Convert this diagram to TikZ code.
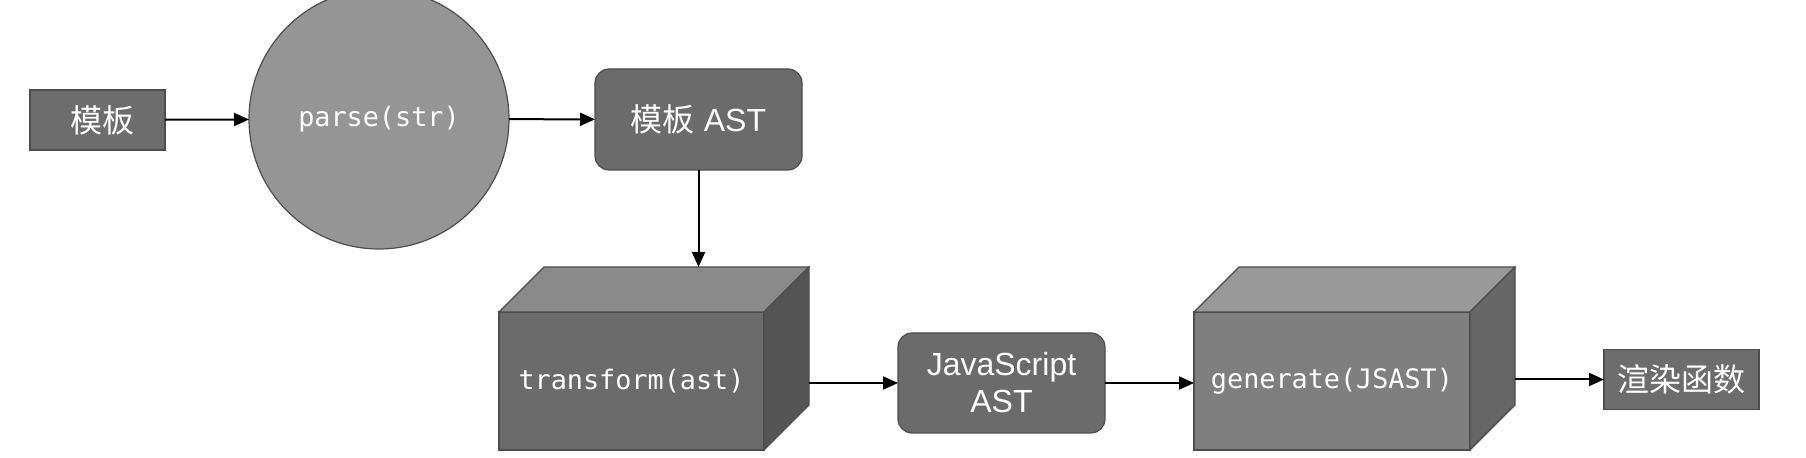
\documentclass[tikz,border=0pt]{standalone}
\usepackage{fontspec}
\setmainfont{Liberation Sans}
\setmonofont{DejaVu Sans Mono}
\newfontfamily\cjk{Noto Sans CJK SC}
\usetikzlibrary{arrows.meta}
\definecolor{edgegray}{HTML}{4D4D4D}
\definecolor{boxgray}{HTML}{6D6D6D}
\definecolor{circgray}{HTML}{959595}
\definecolor{frontA}{HTML}{6B6B6B}
\definecolor{topA}{HTML}{8A8A8A}
\definecolor{sideA}{HTML}{555555}
\definecolor{frontB}{HTML}{7F7F7F}
\definecolor{topB}{HTML}{999999}
\definecolor{sideB}{HTML}{666666}
\begin{document}
\begin{tikzpicture}[x=0.5pt,y=-0.5pt,
	stage/.style={draw=edgegray,line width=0.6pt,outer sep=0pt,text=white,align=center,
		font=\fontsize{16}{18.5}\selectfont},
	box/.style={stage,rectangle,fill=boxgray,minimum width=#1,minimum height=30pt},
	rbox/.style={stage,rectangle,rounded corners=7pt,fill=frontA,minimum width=103.5pt,minimum height=50.5pt},
	front/.style={stage,rectangle,minimum height=69pt,font=\ttfamily\fontsize{13.4}{16}\selectfont},
	face/.style={draw=edgegray,line width=0.6pt},
	link/.style={-{Triangle[length=7.5pt,width=6.5pt]},line width=1pt}]
	\useasboundingbox (0,0) rectangle (1806,458);
	%Noeuds du haut
	\node[box=67.5pt] (M) at (97.5,120) {\hspace{5.5pt}\cjk 模板};
	\node[stage,circle,fill=circgray,minimum size=130pt,font=\ttfamily\fontsize{13.4}{16}\selectfont] (P) at (379,119) {parse(str)};
	\node[rbox] (A) at (698.5,119.5) {{\cjk 模板} AST};
	%Noeuds du bas
	\node[front,fill=frontA,minimum width=132.5pt] (T) at (631.5,381) {transform(ast)};
	\node[rbox,minimum height=50pt] (J) at (1001.5,383) {JavaScript\\AST};
	\node[front,fill=frontB,minimum width=138pt] (G) at (1332,381) {generate(JSAST)};
	\node[box=77.5pt] (R) at (1681.5,379.5) {\cjk 渲染函数};
	%Faces des cubes
	\draw[face,fill=topA] (T.north west) -- ([shift={(45,-45)}]T.north west) -- ([shift={(45,-45)}]T.north east) -- (T.north east) -- cycle;
	\draw[face,fill=sideA] (T.north east) -- ([shift={(45,-45)}]T.north east) -- ([shift={(45,-45)}]T.south east) -- (T.south east) -- cycle;
	\draw[face,fill=topB] (G.north west) -- ([shift={(45,-45)}]G.north west) -- ([shift={(45,-45)}]G.north east) -- (G.north east) -- cycle;
	\draw[face,fill=sideB] (G.north east) -- ([shift={(45,-45)}]G.north east) -- ([shift={(45,-45)}]G.south east) -- (G.south east) -- cycle;
	\coordinate (Tb) at ([shift={(45,-45)}]T.north west);
	\coordinate (Tr) at ([shift={(45,0)}]T.east);
	\coordinate (Gr) at ([shift={(45,0)}]G.east);
	%Fleches
	\draw[link] (M) -- (P);
	\draw[link] (P) -- (A);
	\draw[link] (A.south) -- (A.south |- Tb);
	\draw[link] (Tr |- J.west) -- (J.west);
	\draw[link] (J.east) -- (J.east -| G.west);
	\draw[link] (Gr |- R.west) -- (R.west);
\end{tikzpicture}
\end{document}
